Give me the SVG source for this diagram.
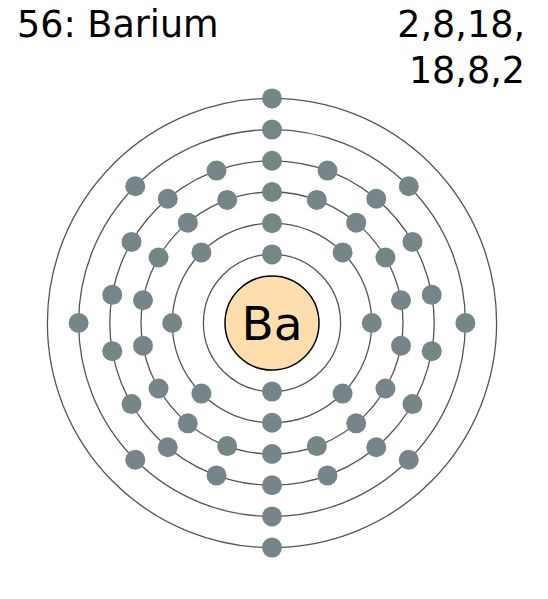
<svg xmlns="http://www.w3.org/2000/svg" width="548" height="599" viewBox="0 0 548 599">
<style>
.shell{fill:none;stroke:#555;stroke-width:1.3}
.e{fill:#768688;stroke:none}
.t{font-family:"DejaVu Sans",sans-serif;fill:#000}
</style>
<rect width="548" height="599" fill="#fff"/>
<g id="title">
<text class="t" x="17" y="37" font-size="36.5">56: Barium</text>
</g>
<g id="config">
<text class="t" x="525" y="37" font-size="36.5" text-anchor="end">2,8,18,</text>
<text class="t" x="525" y="83" font-size="36.5" text-anchor="end">18,8,2</text>
</g>
<g id="shells">
<circle class="shell" cx="272" cy="323" r="68.6"/>
<circle class="shell" cx="272" cy="323" r="99.8"/>
<circle class="shell" cx="272" cy="323" r="131"/>
<circle class="shell" cx="272" cy="323" r="162.2"/>
<circle class="shell" cx="272" cy="323" r="193.4"/>
<circle class="shell" cx="272" cy="323" r="224.6"/>
</g>
<g id="nucleus">
<circle cx="272" cy="323" r="47" fill="#ffdead" stroke="#000" stroke-width="1.5"/>
<text class="t" x="272" y="340" font-size="47" text-anchor="middle">Ba</text>
</g>
<g id="shell1">
<circle class="e" cx="272" cy="254.4" r="10"/>
<circle class="e" cx="272" cy="391.6" r="10"/>
</g>
<g id="shell2">
<circle class="e" cx="371.8" cy="323" r="10"/>
<circle class="e" cx="172.2" cy="323" r="10"/>
<circle class="e" cx="272" cy="223.2" r="10"/>
<circle class="e" cx="272" cy="422.8" r="10"/>
<circle class="e" cx="342.57" cy="252.43" r="10"/>
<circle class="e" cx="201.43" cy="252.43" r="10"/>
<circle class="e" cx="342.57" cy="393.57" r="10"/>
<circle class="e" cx="201.43" cy="393.57" r="10"/>
</g>
<g id="shell3">
<circle class="e" cx="401.01" cy="300.25" r="10"/>
<circle class="e" cx="401.01" cy="345.75" r="10"/>
<circle class="e" cx="142.99" cy="300.25" r="10"/>
<circle class="e" cx="142.99" cy="345.75" r="10"/>
<circle class="e" cx="385.45" cy="257.5" r="10"/>
<circle class="e" cx="385.45" cy="388.5" r="10"/>
<circle class="e" cx="158.55" cy="257.5" r="10"/>
<circle class="e" cx="158.55" cy="388.5" r="10"/>
<circle class="e" cx="356.21" cy="222.65" r="10"/>
<circle class="e" cx="356.21" cy="423.35" r="10"/>
<circle class="e" cx="187.79" cy="222.65" r="10"/>
<circle class="e" cx="187.79" cy="423.35" r="10"/>
<circle class="e" cx="316.8" cy="199.9" r="10"/>
<circle class="e" cx="316.8" cy="446.1" r="10"/>
<circle class="e" cx="227.2" cy="199.9" r="10"/>
<circle class="e" cx="227.2" cy="446.1" r="10"/>
<circle class="e" cx="272" cy="192" r="10"/>
<circle class="e" cx="272" cy="454" r="10"/>
</g>
<g id="shell4">
<circle class="e" cx="431.74" cy="294.83" r="10"/>
<circle class="e" cx="431.74" cy="351.17" r="10"/>
<circle class="e" cx="112.26" cy="294.83" r="10"/>
<circle class="e" cx="112.26" cy="351.17" r="10"/>
<circle class="e" cx="412.47" cy="241.9" r="10"/>
<circle class="e" cx="412.47" cy="404.1" r="10"/>
<circle class="e" cx="131.53" cy="241.9" r="10"/>
<circle class="e" cx="131.53" cy="404.1" r="10"/>
<circle class="e" cx="376.26" cy="198.75" r="10"/>
<circle class="e" cx="376.26" cy="447.25" r="10"/>
<circle class="e" cx="167.74" cy="198.75" r="10"/>
<circle class="e" cx="167.74" cy="447.25" r="10"/>
<circle class="e" cx="327.48" cy="170.58" r="10"/>
<circle class="e" cx="327.48" cy="475.42" r="10"/>
<circle class="e" cx="216.52" cy="170.58" r="10"/>
<circle class="e" cx="216.52" cy="475.42" r="10"/>
<circle class="e" cx="272" cy="160.8" r="10"/>
<circle class="e" cx="272" cy="485.2" r="10"/>
</g>
<g id="shell5">
<circle class="e" cx="465.4" cy="323" r="10"/>
<circle class="e" cx="78.6" cy="323" r="10"/>
<circle class="e" cx="272" cy="129.6" r="10"/>
<circle class="e" cx="272" cy="516.4" r="10"/>
<circle class="e" cx="408.75" cy="186.25" r="10"/>
<circle class="e" cx="135.25" cy="186.25" r="10"/>
<circle class="e" cx="408.75" cy="459.75" r="10"/>
<circle class="e" cx="135.25" cy="459.75" r="10"/>
</g>
<g id="shell6">
<circle class="e" cx="272" cy="98.4" r="10"/>
<circle class="e" cx="272" cy="547.6" r="10"/>
</g>
</svg>
